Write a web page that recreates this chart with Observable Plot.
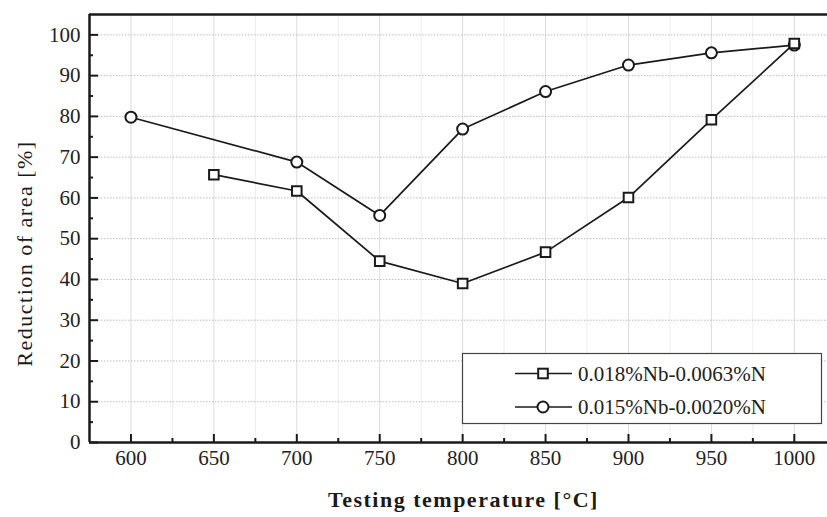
<!DOCTYPE html>
<html>
<head>
<meta charset="utf-8">
<script src="https://cdn.jsdelivr.net/npm/d3@7"></script>
<script src="https://cdn.jsdelivr.net/npm/@observablehq/plot@0.6"></script>
<style>
  body { margin: 0; background: #fff; }
  #chart svg { display: block; }
</style>
</head>
<body>
<div id="chart"></div>
<script>
// Reduction of area vs testing temperature for two Nb microalloyed steels
const seriesNames = ["0.018%Nb-0.0063%N", "0.015%Nb-0.0020%N"];
const nb018Temps  = [650, 700, 750, 800, 850, 900, 950, 1000];
const nb018Values = [65.7, 61.7, 44.5, 39.0, 46.7, 60.1, 79.2, 97.9];
const nb015Temps  = [600, 700, 750, 800, 850, 900, 950, 1000];
const nb015Values = [79.8, 68.8, 55.7, 76.9, 86.1, 92.6, 95.6, 97.5];

const xTicks = [600, 650, 700, 750, 800, 850, 900, 950, 1000];
const xMinorTicks = [625, 675, 725, 775, 825, 875, 925, 975];
const yTicks = [0, 10, 20, 30, 40, 50, 60, 70, 80, 90, 100];
const yMinorTicks = [5, 15, 25, 35, 45, 55, 65, 75, 85, 95];

const xTitle = "Testing temperature [°C]";
const yTitle = "Reduction of area [%]";

const nb018 = nb018Temps.map((t, i) => ({t, v: nb018Values[i]}));
const nb015 = nb015Temps.map((t, i) => ({t, v: nb015Values[i]}));

const W = 827, H = 517;
const mL = 89, mT = 14, mR = 0, mB = 75;
const innerW = W - mL - mR, innerH = H - mT - mB;
const serif = "'Liberation Serif', 'Times New Roman', serif";
const ink = "#1a1a1a";

const chart = Plot.plot({
  width: W,
  height: H,
  marginLeft: mL,
  marginTop: mT,
  marginRight: mR,
  marginBottom: mB,
  style: {fontFamily: serif, fontSize: "21px", color: ink, background: "#fff"},
  x: {domain: [575, 1020], axis: null},
  y: {domain: [0, 105], axis: null},
  marks: [
    // grid
    Plot.ruleX(xMinorTicks, {stroke: "#ededed", strokeWidth: 1}),
    Plot.ruleX(xTicks, {stroke: "#dcdcdc", strokeWidth: 1}),
    Plot.ruleY(yTicks, {stroke: "#bdbdbd", strokeWidth: 1, strokeDasharray: "1.5,1.5"}),
    // frame
    Plot.ruleY([0], {stroke: ink, strokeWidth: 2.5}),
    Plot.ruleY([105], {stroke: ink, strokeWidth: 2.5}),
    Plot.ruleX([575], {stroke: ink, strokeWidth: 2.5}),
    // inward ticks
    Plot.tickX(xTicks, {x: d => d, stroke: ink, strokeWidth: 2, insetTop: innerH - 8}),
    Plot.tickX(xMinorTicks, {x: d => d, stroke: ink, strokeWidth: 2, insetTop: innerH - 4}),
    Plot.tickY(yTicks, {y: d => d, stroke: ink, strokeWidth: 2, insetRight: innerW - 9}),
    Plot.tickY(yMinorTicks, {y: d => d, stroke: ink, strokeWidth: 2, insetRight: innerW - 4}),
    // tick labels
    Plot.axisX(xTicks, {label: null, tickFormat: d => String(d), tickSize: 0, tickPadding: 8, fontSize: 21, fontFamily: serif, fill: "#222"}),
    Plot.axisY(yTicks, {label: null, tickFormat: d => String(d), tickSize: 0, tickPadding: 9, fontSize: 21, fontFamily: serif, fill: "#222"}),
    // axis titles
    Plot.text([xTitle], {frameAnchor: "bottom", textAnchor: "middle", dx: 5, dy: 64, fontSize: 22, fontWeight: "bold", fontFamily: serif, fill: ink}),
    Plot.text([yTitle], {frameAnchor: "left", textAnchor: "middle", rotate: -90, dx: -65, dy: 25, fontSize: 22, fontFamily: serif, fill: ink}),
    // series
    Plot.line(nb015, {x: "t", y: "v", stroke: ink, strokeWidth: 1.7}),
    Plot.dot(nb015, {x: "t", y: "v", symbol: "circle", r: 5.5, fill: "#fff", stroke: ink, strokeWidth: 2}),
    Plot.line(nb018, {x: "t", y: "v", stroke: ink, strokeWidth: 1.7}),
    Plot.dot(nb018, {x: "t", y: "v", symbol: "square", r: 5.4, fill: "#fff", stroke: ink, strokeWidth: 2})
  ]
});

document.getElementById("chart").appendChild(chart);

const svg = d3.select(chart);

// slightly wider tracking for the axis titles
svg.selectAll("text")
  .filter(function() { return this.textContent === xTitle || this.textContent === yTitle; })
  .style("letter-spacing", "1.5px");

// legend box inside the lower-right corner of the plot
const legend = svg.append("g")
  .attr("font-family", serif)
  .attr("font-size", 21)
  .attr("text-anchor", "start")
  .attr("fill", ink);
legend.append("rect")
  .attr("x", 462.5).attr("y", 353.5).attr("width", 359).attr("height", 70)
  .attr("fill", "#fff").attr("stroke", "#444").attr("stroke-width", 1.2);
seriesNames.forEach((name, i) => {
  const cy = 373.5 + i * 33.5;
  legend.append("line")
    .attr("x1", 515).attr("x2", 572).attr("y1", cy).attr("y2", cy)
    .attr("stroke", ink).attr("stroke-width", 1.7);
  if (i === 0) {
    legend.append("rect")
      .attr("x", 543 - 4.8).attr("y", cy - 4.8).attr("width", 9.6).attr("height", 9.6)
      .attr("fill", "#fff").attr("stroke", ink).attr("stroke-width", 2);
  } else {
    legend.append("circle")
      .attr("cx", 543).attr("cy", cy).attr("r", 5.5)
      .attr("fill", "#fff").attr("stroke", ink).attr("stroke-width", 2);
  }
  legend.append("text")
    .attr("x", 578).attr("y", cy).attr("dy", "0.35em")
    .attr("fill", "#222")
    .text(name);
});
</script>
</body>
</html>
